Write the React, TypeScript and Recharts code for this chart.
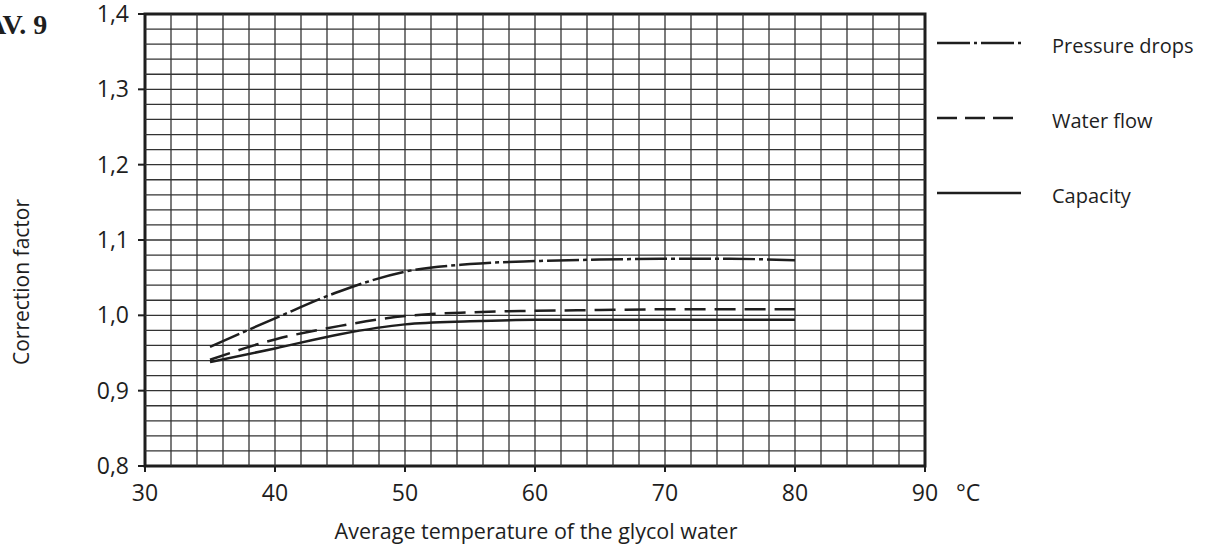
import { LineChart, Line, XAxis, YAxis, ReferenceLine, ReferenceArea } from "recharts";

const temps = [35, 40, 45, 50, 55, 60, 65, 70, 75, 80];
const pressureDrops = [0.958, 0.996, 1.032, 1.058, 1.068, 1.072, 1.074, 1.075, 1.075, 1.073];
const waterFlow = [0.941, 0.968, 0.986, 0.999, 1.004, 1.006, 1.007, 1.008, 1.008, 1.008];
const capacity = [0.938, 0.956, 0.975, 0.988, 0.992, 0.994, 0.994, 0.994, 0.994, 0.994];

const xTicks = [30, 40, 50, 60, 70, 80, 90];
const yTicks = [0.8, 0.9, 1.0, 1.1, 1.2, 1.3, 1.4];
// fine grid: every 2 °C and every 0.02
const gridX = [32, 34, 36, 38, 40, 42, 44, 46, 48, 50, 52, 54, 56, 58, 60, 62, 64, 66, 68, 70, 72, 74, 76, 78, 80, 82, 84, 86, 88];
const gridY = [
  0.82, 0.84, 0.86, 0.88, 0.9, 0.92, 0.94, 0.96, 0.98, 1.0, 1.02, 1.04, 1.06, 1.08, 1.1,
  1.12, 1.14, 1.16, 1.18, 1.2, 1.22, 1.24, 1.26, 1.28, 1.3, 1.32, 1.34, 1.36, 1.38,
];

const data = temps.map((t, i) => ({
  t,
  pressure: pressureDrops[i],
  water: waterFlow[i],
  capacity: capacity[i],
}));

const INK = "#1e1e1e";
const FONT = "'Open Sans', Lato, sans-serif";
const tickStyle = { fill: INK, fontSize: 23, fontFamily: FONT };

const legendItems = [
  { name: "Pressure drops", dash: "33 4 3 4", y: 43 },
  { name: "Water flow", dash: "20 8", y: 118 },
  { name: "Capacity", dash: undefined, y: 193 },
];

export default function App() {
  return (
    <div style={{ position: "absolute", left: 0, top: 0, width: 1213, height: 552, overflow: "hidden", background: "#fff", fontFamily: FONT, color: INK }}>
      <LineChart width={1213} height={552} data={data} margin={{ top: 14, right: 288, bottom: 26, left: 85 }}>
        <XAxis
          dataKey="t"
          type="number"
          domain={[30, 90]}
          ticks={xTicks}
          height={60}
          axisLine={false}
          tickLine={{ stroke: INK, strokeWidth: 2 }}
          tickSize={6}
          tickMargin={13}
          tick={tickStyle}
          allowDataOverflow
        />
        <YAxis
          type="number"
          domain={[0.8, 1.4]}
          ticks={yTicks}
          width={60}
          axisLine={false}
          tickLine={{ stroke: INK, strokeWidth: 2 }}
          tickSize={7}
          tickMargin={9}
          tick={tickStyle}
          tickFormatter={(v: number) => v.toFixed(1).replace(".", ",")}
          allowDataOverflow
        />
        {gridX.map((v) => (
          <ReferenceLine key={`gx${v}`} x={v} stroke="#333" strokeWidth={1.3} />
        ))}
        {gridY.map((v) => (
          <ReferenceLine key={`gy${v}`} y={v} stroke="#333" strokeWidth={1.3} />
        ))}
        <ReferenceArea x1={30} x2={90} y1={0.8} y2={1.4} fill="none" stroke={INK} strokeWidth={3} ifOverflow="visible" />
        <Line type="monotone" dataKey="pressure" stroke={INK} strokeWidth={2.5} strokeDasharray="32 4 4 4" dot={false} isAnimationActive={false} />
        <Line type="monotone" dataKey="water" stroke={INK} strokeWidth={2.5} strokeDasharray="21 9" dot={false} isAnimationActive={false} />
        <Line type="monotone" dataKey="capacity" stroke={INK} strokeWidth={2.5} dot={false} isAnimationActive={false} />
      </LineChart>

      <div style={{ position: "absolute", left: -14, top: 9, fontFamily: "'Liberation Serif', serif", fontWeight: 700, fontSize: 28, whiteSpace: "nowrap" }}>
        AV. 9
      </div>

      <div
        style={{
          position: "absolute",
          left: 21,
          top: 282,
          transform: "translate(-50%, -50%) rotate(-90deg)",
          fontSize: 21,
          whiteSpace: "nowrap",
        }}
      >
        Correction factor
      </div>

      <div style={{ position: "absolute", left: 536, top: 530, transform: "translate(-50%, -50%)", fontSize: 21.5, whiteSpace: "nowrap" }}>
        Average temperature of the glycol water
      </div>

      <div style={{ position: "absolute", left: 956, top: 492, transform: "translateY(-50%)", fontSize: 23, lineHeight: "30px", whiteSpace: "nowrap" }}>
        °C
      </div>

      {legendItems.map((it) => (
        <div key={it.name}>
          <svg style={{ position: "absolute", left: 937, top: it.y - 3 }} width={84} height={6}>
            <line x1={0} y1={3} x2={84} y2={3} stroke={INK} strokeWidth={2.5} strokeDasharray={it.dash} />
          </svg>
          <div style={{ position: "absolute", left: 1052, top: it.y + 2, transform: "translateY(-50%)", fontSize: 20, whiteSpace: "nowrap" }}>
            {it.name}
          </div>
        </div>
      ))}
    </div>
  );
}
